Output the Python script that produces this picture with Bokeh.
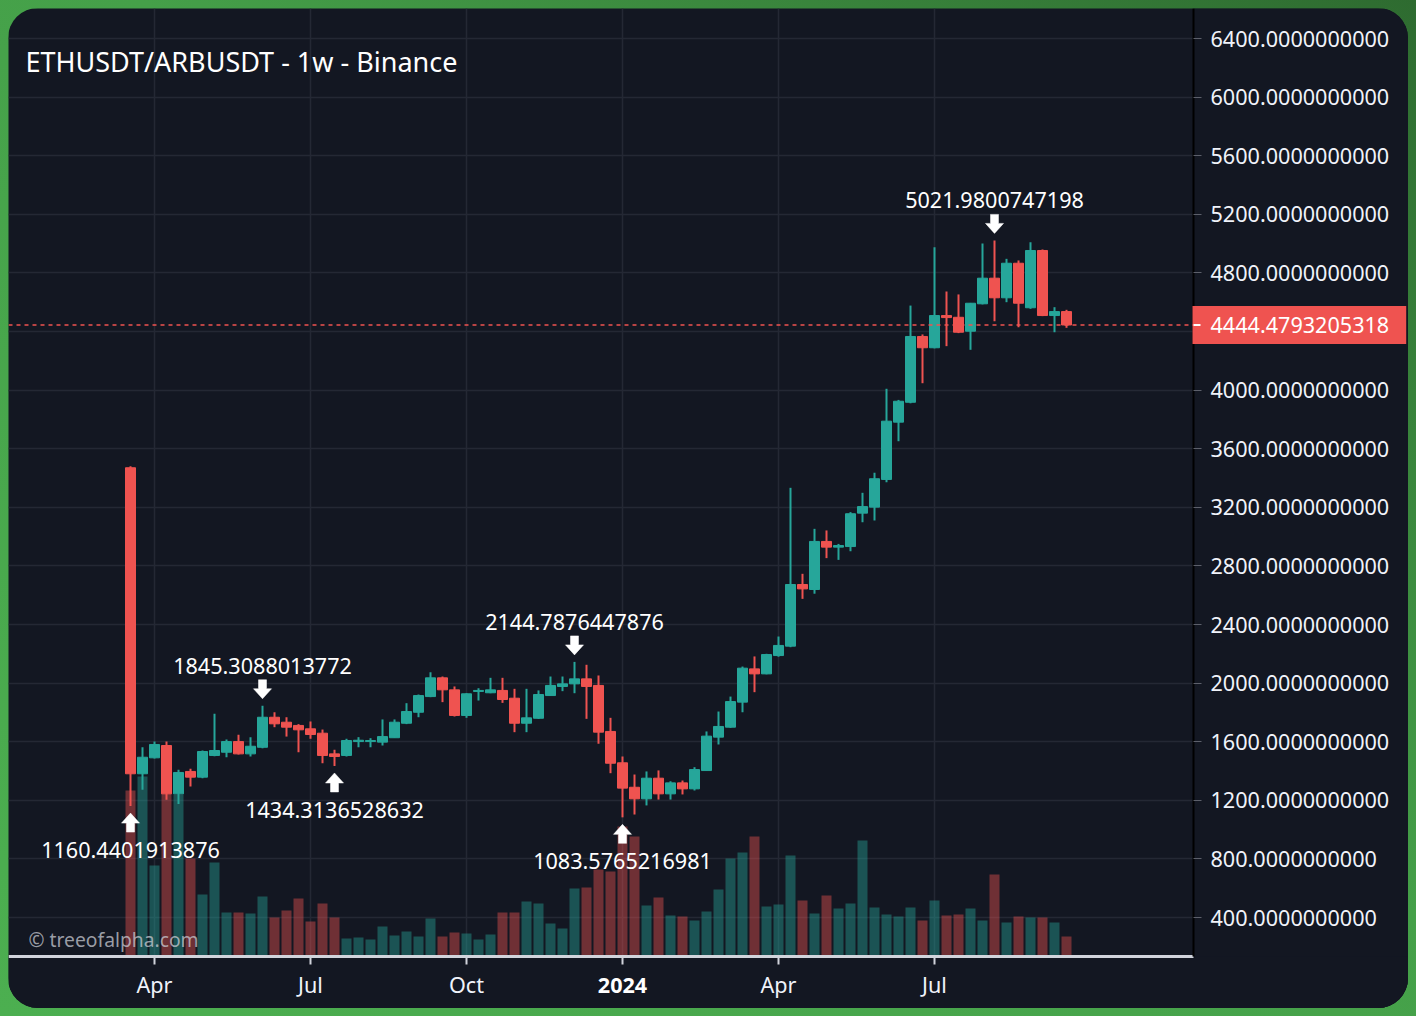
import pandas as pd
from bokeh.plotting import figure
from bokeh.models import (Range1d, FixedTicker, PrintfTickFormatter, Span, Label,
                          ColumnDataSource, BoxAnnotation)
from bokeh.layouts import column
from bokeh.embed import file_html
from bokeh.resources import INLINE
from bokeh.core.properties import value

# ---------------- data ----------------
first_week = "2023-03-20"
n_weeks = 79

opens = [3470, 1381, 1490, 1574, 1244, 1397, 1358, 1506, 1528, 1601,
         1517, 1562, 1767, 1733, 1711, 1688, 1658, 1517, 1506, 1601,
         1601, 1597, 1627, 1726, 1801, 1908, 2036, 1954, 1779, 1943,
         1934, 1950, 1897, 1726, 1760, 1915, 1977, 1995, 2029, 1984,
         1670, 1456, 1289, 1210, 1351, 1244, 1319, 1278, 1403, 1631,
         1699, 1870, 2097, 2063, 2188, 2252, 2673, 2639, 2967, 2928,
         2932, 3160, 3201, 3390, 3781, 3917, 4366, 4289, 4509, 4497,
         4402, 4589, 4764, 4630, 4866, 4562, 4953, 4509, 4536]
highs = [3480, 1562, 1601, 1601, 1408, 1415, 1540, 1790, 1615, 1647,
         1631, 1845.3088013772, 1801, 1767, 1720, 1738, 1683, 1545, 1620, 1631,
         1624, 1752, 1752, 1863, 1922, 2074, 2045, 1977, 1931, 1965,
         2036, 2036, 1961, 1961, 1950, 2045, 2045, 2144.7876447876, 2125, 2052,
         1763, 1499, 1376, 1397, 1404, 1330, 1335, 1426, 1670, 1806,
         1908, 2113, 2182, 2200, 2318, 3333, 2746, 3053, 3042, 2950,
         3167, 3299, 3436, 4009, 3933, 4577, 4380, 4975, 4673, 4653,
         4595, 5000, 5021.9800747198, 4896, 4885, 5010, 4960, 4566, 4548]
lows = [1160.4401913876, 1272, 1485, 1203, 1175, 1294, 1351, 1500, 1494, 1512,
        1499, 1555, 1699, 1635, 1528, 1620, 1453, 1434.3136528632, 1499, 1562,
        1562, 1574, 1627, 1720, 1767, 1904, 1870, 1772, 1763, 1881,
        1931, 1865, 1665, 1665, 1756, 1915, 1945, 1931, 1756, 1586,
        1385, 1083.5765216981, 1103, 1165, 1205, 1205, 1240, 1267, 1400, 1581,
        1695, 1801, 1938, 2060, 2180, 2245, 2575, 2610, 2853, 2841,
        2900, 3098, 3110, 3371, 3651, 3910, 4047, 4285, 4300, 4389,
        4275, 4585, 4470, 4600, 4429, 4555, 4505, 4395, 4425]
closes = [1381, 1494, 1581, 1244, 1390, 1358, 1533, 1540, 1601, 1517,
          1569, 1767, 1722, 1699, 1681, 1649, 1506, 1499, 1608, 1610,
          1608, 1635, 1733, 1806, 1915, 2036, 1954, 1779, 1927, 1950,
          1954, 1888, 1726, 1763, 1922, 1984, 1995, 2029, 1977, 1665,
          1453, 1283, 1210, 1351, 1244, 1319, 1278, 1410, 1638, 1704,
          1874, 2102, 2063, 2195, 2257, 2673, 2643, 2967, 2928, 2939,
          3156, 3205, 3395, 3788, 3924, 4366, 4289, 4509, 4495, 4395,
          4593, 4764, 4630, 4866, 4593, 4953, 4509, 4536, 4444.4793205318]
volumes = [166, 180, 91, 165, 162, 98, 62, 94, 44, 44,
           43, 60, 39, 46, 58, 35, 53, 39, 18, 19,
           17, 30, 21, 25, 20, 38, 20, 24, 23, 17,
           22, 44, 44, 55, 53, 33, 28, 68, 69, 87,
           85, 130, 120, 51, 59, 41, 40, 36, 45, 67,
           98, 104, 120, 50, 52, 101, 56, 43, 61, 48,
           53, 116, 49, 42, 40, 49, 36, 56, 41, 42,
           48, 36, 82, 34, 40, 39, 39, 34, 20]

tick_dates = ["2023-04-03", "2023-07-03", "2023-10-02", "2024-01-01", "2024-04-01", "2024-07-01"]
tick_labels = ["Apr", "Jul", "Oct", "2024", "Apr", "Jul"]
bold_tick = "2024"
y_ticks = list(range(400, 6401, 400))
high_marks = [11, 37, 72]
low_marks = [0, 17, 41]
title_text = "ETHUSDT/ARBUSDT - 1w - Binance"
watermark = "\u00a9 treeofalpha.com"

# ---------------- style / layout ----------------
UP = "#26a69a"
DOWN = "#ef5350"
BG = "#131722"
GRID = "#242834"
FONT = "Noto Sans"
FS = "21.6px"
W, H = 1400, 1000
FRAME_W, FRAME_H = 1400, 1000
AXIS_H = 52                      # height of time-scale strip
DAY = 86400000
WEEK = 7 * DAY

dates = pd.date_range(first_week, periods=n_weeks, freq="7D")
t0 = dates[0].value / 1e6
X0 = t0 - 10.1667 * WEEK
X1 = t0 + 106.5 * WEEK
X_AX = t0 + 88.5833 * WEEK          # price-scale border
VAL_PX = 6000 / 879
Y1 = 6400 + 30 * VAL_PX
Y0 = Y1 - FRAME_H * VAL_PX
Y_AX = Y0 + AXIS_H * VAL_PX         # time-scale border
MS_PX = (X1 - X0) / FRAME_W
BAR_W = 10 * MS_PX

xs = [d.value / 1e6 for d in dates]
up = [c >= o for o, c in zip(opens, closes)]
src = ColumnDataSource(dict(
    x=xs, o=opens, h=highs, l=lows, c=closes, v=volumes,
    top=[max(o, c) for o, c in zip(opens, closes)],
    bot=[min(o, c) for o, c in zip(opens, closes)],
    col=[UP if u else DOWN for u in up],
))

p = figure(width=W, height=H, x_axis_type="datetime", y_axis_location="right",
           x_range=Range1d(X0, X1), y_range=Range1d(Y0, Y1),
           output_backend="svg", toolbar_location=None,
           background_fill_color=BG, border_fill_color=BG,
           min_border_left=0, min_border_top=0, min_border_right=0, min_border_bottom=0)
p.outline_line_color = None
p.extra_y_ranges = {"vol": Range1d(-AXIS_H, FRAME_H - AXIS_H)}

for g in (p.xgrid, p.ygrid):
    g.grid_line_color = GRID
    g.grid_line_width = 1.5
# price-scale and time-scale strips hide the grid lines
p.add_layout(BoxAnnotation(left=X_AX, fill_color=BG, fill_alpha=1, line_color=None, level="underlay"))
p.add_layout(BoxAnnotation(top=Y_AX, fill_color=BG, fill_alpha=1, line_color=None, level="underlay"))

# volume
p.vbar(x="x", top="v", bottom=0, width=BAR_W, source=src, y_range_name="vol",
       fill_color="col", line_color=None, fill_alpha=0.42)
# candles
p.segment(x0="x", y0="h", x1="x", y1="l", source=src, line_color="col", line_width=2)
p.vbar(x="x", top="top", bottom="bot", width=BAR_W, source=src,
       fill_color="col", line_color="col", line_width=1)

# markers
shape = [(0, 0), (9, 10), (4, 10), (4, 19), (-4, 19), (-4, 10), (-9, 10)]
GAP = 7
ax, ay, tx, ty, tt, toff = [], [], [], [], [], []
for i in high_marks:
    ax.append([xs[i] + px * MS_PX for px, py in shape])
    ay.append([highs[i] + (GAP + py) * VAL_PX for px, py in shape])
    tx.append(xs[i]); ty.append(highs[i]); tt.append(f"{highs[i]:.10f}"); toff.append(-40)
for i in low_marks:
    ax.append([xs[i] + px * MS_PX for px, py in shape])
    ay.append([lows[i] - (GAP + py) * VAL_PX for px, py in shape])
    tx.append(xs[i]); ty.append(lows[i]); tt.append(f"{lows[i]:.10f}"); toff.append(44)
p.patches(ax, ay, fill_color="white", line_color="white", line_width=0.5)
p.text(x=tx, y=ty, text=tt, y_offset=toff, text_align="center", text_baseline="middle",
       text_color="white", text_font=value(FONT), text_font_size=FS)

# price scale (right axis drawn at the scale border)
p.yaxis.fixed_location = X_AX
p.yaxis.bounds = (Y_AX, Y1)
p.yaxis.ticker = FixedTicker(ticks=y_ticks)
p.yaxis.formatter = PrintfTickFormatter(format="%.10f")
p.yaxis.axis_line_color = "#000000"
p.yaxis.axis_line_width = 2
p.yaxis.major_tick_out = 8
p.yaxis.major_tick_in = 0
p.yaxis.major_tick_line_color = "#5d606b"
p.yaxis.minor_tick_line_color = None
p.yaxis.major_label_standoff = 9
p.yaxis.major_label_text_color = "#f0f3fa"
p.yaxis.major_label_text_font = FONT
p.yaxis.major_label_text_font_size = FS

# time scale (bottom axis drawn at the time-scale border)
tick_ms = [int(pd.Timestamp(d).value // 10**6) for d in tick_dates]
p.xaxis.fixed_location = Y_AX
p.xaxis.ticker = FixedTicker(ticks=tick_ms)
p.xaxis.bounds = (X0, X_AX)
p.xaxis.major_label_overrides = {m: ("" if l == bold_tick else l) for m, l in zip(tick_ms, tick_labels)}
p.xaxis.axis_line_color = "#d1d4dc"
p.xaxis.axis_line_width = 3
p.xaxis.major_tick_out = 8
p.xaxis.major_tick_in = 0
p.xaxis.major_tick_line_color = "#d1d4dc"
p.xaxis.major_tick_line_width = 2
p.xaxis.minor_tick_line_color = None
p.xaxis.major_label_standoff = 5
p.xaxis.major_label_text_color = "#f0f3fa"
p.xaxis.major_label_text_font = FONT
p.xaxis.major_label_text_font_size = FS

bi = tick_labels.index(bold_tick)
p.text(x=[tick_ms[bi]], y=[Y_AX], text=[bold_tick], y_offset=29, text_align="center",
       text_baseline="middle", text_color="#ffffff", text_font=value(FONT),
       text_font_size=FS, text_font_style="bold")

# last price line and box
p.add_layout(Span(location=closes[-1], dimension="width", line_color=DOWN,
                  line_dash="4 4", line_width=1.5))
p.add_layout(Label(x=X_AX, y=closes[-1], x_offset=-1, text=f"{closes[-1]:.10f}",
                   anchor="center_left", text_align="left", text_baseline="middle",
                   text_color="white", text_font=FONT, text_font_size=FS,
                   background_fill_color=DOWN,
                   padding=dict(left=18, right=17, top=11, bottom=11)))
p.segment(x0=[X_AX], y0=[closes[-1]], x1=[X_AX + 7 * MS_PX], y1=[closes[-1]],
          line_color="white", line_width=2, level="overlay")

# title and watermark
p.add_layout(Label(x=17, y=FRAME_H - 53, x_units="screen", y_units="screen", text=title_text,
                   text_baseline="middle", text_color="#ffffff", text_font=FONT,
                   text_font_size="27px"))
p.add_layout(Label(x=20, y=AXIS_H + 17, x_units="screen", y_units="screen", text=watermark,
                   text_baseline="middle", text_color="#c8cad2", text_alpha=0.75,
                   text_font=FONT, text_font_size="19.3px"))

p.styles = {"border-radius": "30px", "overflow": "hidden"}
p.margin = (8, 8, 8, 8)
layout = column(p, styles={"background": "linear-gradient(to top right, #4caf50, #45a049 55%, #2e6b30)"})

open("out.html", "w").write(file_html(layout, INLINE))
